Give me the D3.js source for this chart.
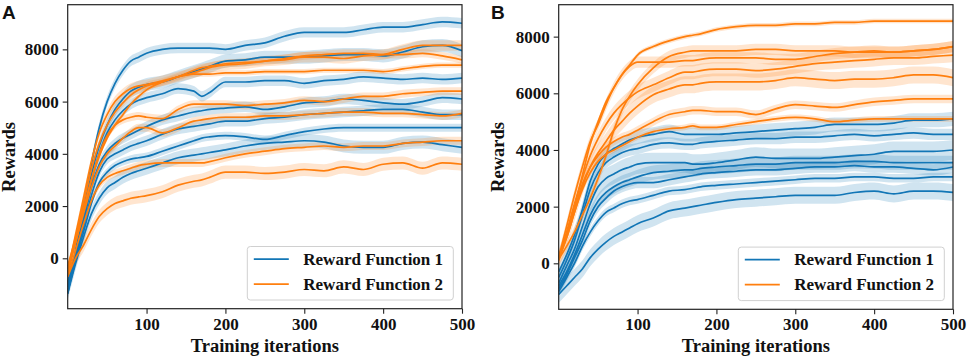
<!DOCTYPE html>
<html><head><meta charset="utf-8">
<script src="https://cdn.jsdelivr.net/npm/d3@7"></script>
<style>body{margin:0;background:#fff}svg{display:block}</style>
</head><body>
<svg id="chart" width="969" height="358"></svg>
<script>
const iters = [0,10,20,30,40,50,60,70,80,90,100,120,140,160,170,180,200,225,250,275,300,325,350,375,400,425,450,475,500];
const xTicks = [100,200,300,400,500];
const yTicks = [0,2000,4000,6000,8000];
const seriesNames = ["Reward Function 1","Reward Function 2"];
const panelLabels = ["A","B"];

// Panel A – Reward Function 1 (blue)
const panelA_rf1 = [
 [-1350,300,1900,3600,5000,6000,6700,7200,7550,7700,7850, 8000,8050,8050,8050,8050, 8000,8150,8250,8500,8650,8650,8650,8750,8850,8850,8950,9050,9000],
 [-1000,200,1700,3200,4300,5100,5700,6100,6400,6550,6650, 6750,6950,7150,7250,7350, 7550,7600,7700,7700,7700,7750,7800,7800,7750,7900,8100,8150,7950],
 [-1100,100,1500,2900,4000,4800,5300,5650,5900,6050,6150, 6300,6500,6400,6200,6350, 6750,6750,6800,6800,6700,6800,6850,6950,6900,6850,6900,6850,6900],
 [-900,200,1400,2700,3600,4100,4400,4600,4750,4900,5050, 5300,5450,5600,5650,5700, 5750,5800,5700,5800,5950,6000,6100,6050,5950,5900,6000,6150,6100],
 [-1200,0,1200,2400,3300,3800,4000,4150,4300,4400,4500, 4750,4950,5050,5100,5150, 5250,5250,5350,5400,5500,5550,5600,5650,5700,5700,5600,5500,5500],
 [-1300,-100,1000,2100,2900,3300,3550,3700,3800,3850,3900, 4100,4300,4500,4600,4650, 4700,4650,4550,4700,4850,4950,5000,5000,5000,5000,5000,5000,5000],
 [-1350,-200,800,1700,2300,2700,2900,3100,3250,3350,3450, 3650,3850,3950,4000,4050, 4150,4300,4400,4450,4500,4450,4300,4250,4250,4400,4450,4350,4250]
];
const panelA_rf1_band = [200,250,200,200,200,150,250];

// Panel A – Reward Function 2 (orange)
const panelA_rf2 = [
 [-500,900,2300,3700,4800,5500,6000,6300,6500,6600,6650, 6800,6950,7100,7200,7300, 7400,7450,7550,7600,7700,7700,7650,7750,7800,8000,8150,8150,8150],
 [-300,800,2100,3400,4400,5100,5600,5950,6250,6450,6600, 6750,6950,7200,7300,7350, 7450,7500,7550,7650,7750,7800,7850,7850,7800,7800,7850,7750,7600],
 [-400,700,1900,3000,3900,4600,5100,5500,5900,6200,6450, 6750,6950,7050,7050,7050, 7100,7100,7150,7150,7150,7200,7200,7200,7150,7250,7350,7400,7400],
 [-600,600,1800,3000,4000,4700,5100,5300,5400,5450,5400, 5350,5700,5900,5900,5900, 5900,5850,5900,5950,6050,6000,6100,6200,6200,6300,6350,6400,6400],
 [-400,600,1700,2700,3500,4000,4300,4600,4850,5000,5000, 4800,5000,5250,5300,5350, 5400,5400,5450,5450,5500,5550,5600,5600,5550,5550,5500,5450,5550],
 [-700,300,1300,2200,2800,3100,3250,3350,3450,3550,3600, 3650,3650,3650,3650,3700, 3850,4000,4100,4200,4250,4300,4250,4300,4300,4400,4450,4500,4500],
 [-700,0,500,1100,1600,1900,2100,2200,2300,2350,2400, 2550,2800,2950,3000,3100, 3300,3300,3250,3300,3400,3350,3500,3400,3600,3650,3450,3650,3600]
];
const panelA_rf2_band = [200,150,100,150,150,150,250];

// Panel B – Reward Function 1 (blue)
const panelB_rf1 = [
 [-300,300,1000,1900,2900,3500,3850,4050,4200,4350,4450, 4550,4650,4550,4550,4550, 4550,4600,4650,4700,4750,4800,4900,4900,4900,4950,5050,5050,5100],
 [-500,100,800,1700,2600,3200,3550,3750,3900,4000,4050, 4200,4250,4200,4200,4250, 4300,4350,4400,4400,4450,4450,4500,4550,4500,4550,4600,4550,4550],
 [-700,-100,500,1300,2100,2700,3000,3150,3300,3400,3500, 3550,3550,3550,3500,3500, 3550,3650,3750,3700,3700,3700,3750,3800,3850,3950,3950,3950,4000],
 [-800,-300,300,1000,1700,2200,2500,2700,2850,2950,3050, 3200,3250,3300,3300,3350, 3400,3450,3500,3500,3550,3550,3550,3600,3600,3550,3550,3550,3550],
 [-900,-400,200,800,1500,2000,2300,2550,2700,2800,2850, 2850,2950,3050,3100,3150, 3200,3250,3300,3300,3350,3400,3400,3450,3400,3400,3350,3300,3400],
 [-1000,-500,0,600,1100,1500,1800,1950,2100,2200,2250, 2400,2550,2600,2650,2700, 2750,2800,2850,2900,2950,3000,3000,3050,3050,3000,3000,3050,3050],
 [-1100,-800,-500,-200,200,500,750,950,1100,1250,1400, 1600,1850,1950,2000,2050, 2150,2250,2300,2350,2400,2400,2400,2500,2550,2450,2550,2550,2500]
];
const panelB_rf1_band = [250,200,350,250,200,150,300];

// Panel B – Reward Function 2 (orange)
const panelB_rf2 = [
 [100,1000,2000,3100,4200,5000,5700,6200,6650,7000,7350, 7650,7850,8000,8050,8100, 8250,8350,8400,8400,8450,8450,8500,8500,8550,8550,8550,8550,8550],
 [200,1300,2400,3400,4300,4900,5600,6200,6650,6950,7100, 7100,7100,7150,7150,7200, 7250,7250,7250,7200,7200,7300,7400,7450,7500,7450,7500,7550,7650],
 [150,600,1100,1700,2300,3000,3800,4700,5400,5900,6300, 6900,7300,7450,7500,7500, 7500,7500,7550,7550,7500,7500,7500,7450,7450,7450,7500,7550,7650],
 [200,1100,2100,3000,3800,4400,4900,5300,5600,5850,6050, 6300,6550,6750,6750,6800, 6850,6850,6800,6850,6950,7050,7100,7150,7200,7250,7250,7300,7350],
 [150,900,1800,2700,3400,3900,4300,4700,5000,5300,5550, 5950,6150,6300,6300,6350, 6400,6400,6400,6450,6550,6500,6450,6500,6500,6550,6650,6650,6550],
 [200,1000,1900,2800,3400,3800,4100,4300,4450,4550,4700, 5000,5250,5350,5400,5400, 5350,5350,5250,5450,5600,5550,5500,5600,5700,5750,5800,5800,5800],
 [250,900,1800,2600,3200,3600,3850,4000,4150,4300,4450, 4650,4750,4800,4850,4800, 4800,4900,5000,5100,5150,5100,5000,5050,5100,5100,5100,5100,5100]
];
const panelB_rf2_band = [80,200,200,250,300,150,100];

const colors = ["#1276b6","#ff7f0e"];
const FONT = "'Liberation Serif','Times New Roman',serif";

const panels = [
  {label:panelLabels[0], left:67.7, right:462, top:4.7, bottom:308.7, yDom:[-1930,9710],
   rf1:panelA_rf1, rf1b:panelA_rf1_band, rf2:panelA_rf2, rf2b:panelA_rf2_band, lx:0},
  {label:panelLabels[1], left:558.7, right:953, top:4.7, bottom:309.3, yDom:[-1623,9127],
   rf1:panelB_rf1, rf1b:panelB_rf1_band, rf2:panelB_rf2, rf2b:panelB_rf2_band, lx:489}
];

const svg = d3.select("#chart");

panels.forEach((p,pi) => {
  const x = d3.scaleLinear().domain([0,500]).range([p.left,p.right]);
  const y = d3.scaleLinear().domain(p.yDom).range([p.bottom,p.top]);
  const g = svg.append("g");
  const clipId = "clip"+pi;
  svg.append("clipPath").attr("id",clipId).append("rect")
    .attr("x",p.left).attr("y",p.top).attr("width",p.right-p.left).attr("height",p.bottom-p.top);
  const plot = g.append("g").attr("clip-path",`url(#${clipId})`);

  const groups = [[p.rf1,p.rf1b,colors[0]],[p.rf2,p.rf2b,colors[1]]];
  const curve = d3.curveMonotoneX;
  groups.forEach(([set,bands,c]) => {
    set.forEach((vals,i) => {
      const area = d3.area().curve(curve)
        .x((d,j)=>x(iters[j])).y0(d=>y(d-bands[i])).y1(d=>y(d+bands[i]));
      plot.append("path").attr("d",area(vals)).attr("fill",c).attr("opacity",0.2).attr("stroke","none");
    });
  });
  groups.forEach(([set,bands,c]) => {
    set.forEach(vals => {
      const line = d3.line().curve(curve).x((d,j)=>x(iters[j])).y(d=>y(d));
      plot.append("path").attr("d",line(vals)).attr("fill","none").attr("stroke",c).attr("stroke-width",1.7);
    });
  });

  const xa = g.append("g").attr("transform",`translate(0,${p.bottom})`)
    .call(d3.axisBottom(x).tickValues(xTicks).tickSize(5).tickPadding(4).tickFormat(d3.format("d")));
  const ya = g.append("g").attr("transform",`translate(${p.left},0)`)
    .call(d3.axisLeft(y).tickValues(yTicks).tickSize(5).tickPadding(4).tickFormat(d3.format("d")));
  [xa,ya].forEach(a=>{
    a.select(".domain").remove();
    a.selectAll("line").attr("stroke","#222").attr("stroke-width",1.1);
    a.selectAll("text").attr("font-family",FONT).attr("font-weight","bold").attr("font-size",17).attr("fill","#111");
  });
  g.append("rect").attr("x",p.left).attr("y",p.top).attr("width",p.right-p.left).attr("height",p.bottom-p.top)
    .attr("fill","none").attr("stroke","#222").attr("stroke-width",1.2);

  g.append("text").attr("x",(p.left+p.right)/2).attr("y",352).attr("text-anchor","middle")
    .attr("font-family",FONT).attr("font-weight","bold").attr("font-size",18.5).attr("fill","#111")
    .text("Training iterations");
  g.append("text").attr("transform",`translate(${p.lx+15},157) rotate(-90)`).attr("text-anchor","middle")
    .attr("font-family",FONT).attr("font-weight","bold").attr("font-size",18.5).attr("fill","#111")
    .text("Rewards");
  g.append("text").attr("x",p.lx+2).attr("y",19).attr("font-family","'Liberation Sans',Arial,sans-serif")
    .attr("font-weight","bold").attr("font-size",19).attr("fill","#111").text(p.label);

  const lw = 206, lh = 53.5;
  const lx0 = p.right - 8.7 - lw, ly0 = p.bottom - 8.7 - lh;
  const leg = g.append("g");
  leg.append("rect").attr("x",lx0).attr("y",ly0).attr("width",lw).attr("height",lh).attr("rx",3)
    .attr("fill","#fff").attr("fill-opacity",0.85).attr("stroke","#d0d0d0").attr("stroke-width",1);
  seriesNames.forEach((s,i)=>{
    const yy = ly0 + 12.6 + i*25;
    leg.append("line").attr("x1",lx0+6.5).attr("x2",lx0+41.5).attr("y1",yy).attr("y2",yy)
      .attr("stroke",colors[i]).attr("stroke-width",1.8);
    leg.append("text").attr("x",lx0+56).attr("y",yy+5.5).attr("font-family",FONT).attr("font-weight","bold")
      .attr("font-size",17).attr("fill","#111").text(s);
  });
});
</script>
</body></html>
